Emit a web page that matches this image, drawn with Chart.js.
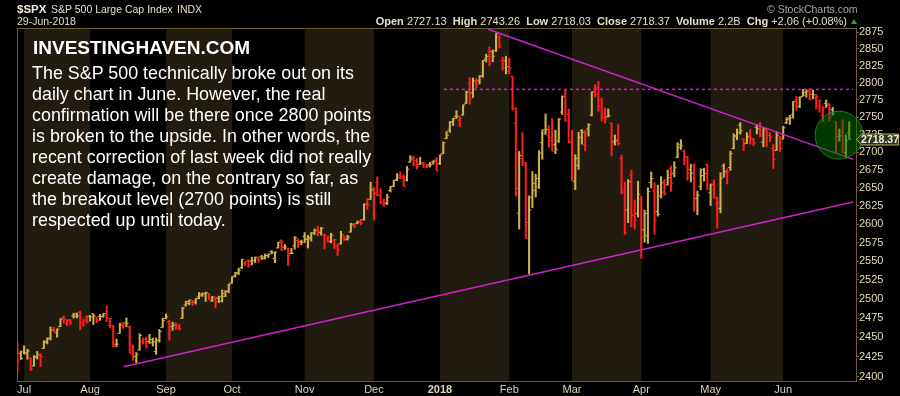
<!DOCTYPE html>
<html>
<head>
<meta charset="utf-8">
<script src="https://cdn.jsdelivr.net/npm/chart.js@4.4.0/dist/chart.umd.min.js"></script>
<style>
html,body{margin:0;padding:0;background:#000;}
#wrap{position:relative;width:900px;height:396px;overflow:hidden;background:#000;}
#mycanvas{position:absolute;left:0;top:0;}
.hd{position:absolute;font-family:"Liberation Sans",Arial,sans-serif;font-size:10.5px;line-height:12px;color:#e6dec6;white-space:pre;}
.note{position:absolute;color:#fff;font-family:"Liberation Sans",Arial,sans-serif;white-space:nowrap;}
</style>
</head>
<body>
<div id="wrap">
<canvas id="mycanvas" width="900" height="396"></canvas>
<div class="hd" style="left:17px;top:3px;font-weight:bold;font-size:11.5px;color:#f2ecd8">$SPX</div>
<div class="hd" style="left:51px;top:3px">S&amp;P 500 Large Cap Index</div>
<div class="hd" style="left:177px;top:3px">INDX</div>
<div class="hd" style="left:767px;top:3px;color:#a8a8a8">© StockCharts.com</div>
<div class="hd" style="left:17px;top:15px">29-Jun-2018</div>
<div class="hd" style="right:53px;top:15px;font-size:11px"><b>Open</b> 2727.13  <b>High</b> 2743.26  <b>Low</b> 2718.03  <b>Close</b> 2718.37  <b>Volume</b> 2.2B  <b>Chg</b> +2.06 (+0.08%)</div>
<div style="position:absolute;left:851px;top:19px;width:0;height:0;border-left:3.5px solid transparent;border-right:3.5px solid transparent;border-bottom:5px solid #1fae1f"></div>
<div class="note" style="left:33px;top:38px;font-weight:bold;font-size:19px;line-height:19px">INVESTINGHAVEN.COM</div>
<div class="note" style="left:32px;top:62.6px;font-size:17.9px;line-height:21px">The S&amp;P 500 technically broke out on its<br>daily chart in June. However, the real<br>confirmation will be there once 2800 points<br>is broken to the upside. In other words, the<br>recent correction of last week did not really<br>create damage, on the contrary so far, as<br>the breakout level (2700 points) is still<br>respected up until today.</div>
</div>
<script>
var dates = [
'2017-06-29','2017-06-30',
'2017-07-03','2017-07-05','2017-07-06','2017-07-07','2017-07-10','2017-07-11','2017-07-12','2017-07-13','2017-07-14','2017-07-17','2017-07-18','2017-07-19','2017-07-20','2017-07-21','2017-07-24','2017-07-25','2017-07-26','2017-07-27','2017-07-28','2017-07-31',
'2017-08-01','2017-08-02','2017-08-03','2017-08-04','2017-08-07','2017-08-08','2017-08-09','2017-08-10','2017-08-11','2017-08-14','2017-08-15','2017-08-16','2017-08-17','2017-08-18','2017-08-21','2017-08-22','2017-08-23','2017-08-24','2017-08-25','2017-08-28','2017-08-29','2017-08-30','2017-08-31',
'2017-09-01','2017-09-05','2017-09-06','2017-09-07','2017-09-08','2017-09-11','2017-09-12','2017-09-13','2017-09-14','2017-09-15','2017-09-18','2017-09-19','2017-09-20','2017-09-21','2017-09-22','2017-09-25','2017-09-26','2017-09-27','2017-09-28','2017-09-29',
'2017-10-02','2017-10-03','2017-10-04','2017-10-05','2017-10-06','2017-10-09','2017-10-10','2017-10-11','2017-10-12','2017-10-13','2017-10-16','2017-10-17','2017-10-18','2017-10-19','2017-10-20','2017-10-23','2017-10-24','2017-10-25','2017-10-26','2017-10-27','2017-10-30','2017-10-31',
'2017-11-01','2017-11-02','2017-11-03','2017-11-06','2017-11-07','2017-11-08','2017-11-09','2017-11-10','2017-11-13','2017-11-14','2017-11-15','2017-11-16','2017-11-17','2017-11-20','2017-11-21','2017-11-22','2017-11-24','2017-11-27','2017-11-28','2017-11-29','2017-11-30',
'2017-12-01','2017-12-04','2017-12-05','2017-12-06','2017-12-07','2017-12-08','2017-12-11','2017-12-12','2017-12-13','2017-12-14','2017-12-15','2017-12-18','2017-12-19','2017-12-20','2017-12-21','2017-12-22','2017-12-26','2017-12-27','2017-12-28','2017-12-29',
'2018-01-02','2018-01-03','2018-01-04','2018-01-05','2018-01-08','2018-01-09','2018-01-10','2018-01-11','2018-01-12','2018-01-16','2018-01-17','2018-01-18','2018-01-19','2018-01-22','2018-01-23','2018-01-24','2018-01-25','2018-01-26','2018-01-29','2018-01-30','2018-01-31',
'2018-02-01','2018-02-02','2018-02-05','2018-02-06','2018-02-07','2018-02-08','2018-02-09','2018-02-12','2018-02-13','2018-02-14','2018-02-15','2018-02-16','2018-02-20','2018-02-21','2018-02-22','2018-02-23','2018-02-26','2018-02-27','2018-02-28',
'2018-03-01','2018-03-02','2018-03-05','2018-03-06','2018-03-07','2018-03-08','2018-03-09','2018-03-12','2018-03-13','2018-03-14','2018-03-15','2018-03-16','2018-03-19','2018-03-20','2018-03-21','2018-03-22','2018-03-23','2018-03-26','2018-03-27','2018-03-28','2018-03-29',
'2018-04-02','2018-04-03','2018-04-04','2018-04-05','2018-04-06','2018-04-09','2018-04-10','2018-04-11','2018-04-12','2018-04-13','2018-04-16','2018-04-17','2018-04-18','2018-04-19','2018-04-20','2018-04-23','2018-04-24','2018-04-25','2018-04-26','2018-04-27','2018-04-30',
'2018-05-01','2018-05-02','2018-05-03','2018-05-04','2018-05-07','2018-05-08','2018-05-09','2018-05-10','2018-05-11','2018-05-14','2018-05-15','2018-05-16','2018-05-17','2018-05-18','2018-05-21','2018-05-22','2018-05-23','2018-05-24','2018-05-25','2018-05-29','2018-05-30','2018-05-31',
'2018-06-01','2018-06-04','2018-06-05','2018-06-06','2018-06-07','2018-06-08','2018-06-11','2018-06-12','2018-06-13','2018-06-14','2018-06-15','2018-06-18','2018-06-19','2018-06-20','2018-06-21','2018-06-22','2018-06-25','2018-06-26','2018-06-27','2018-06-28','2018-06-29'
];

var opens = [
2442.38,2429.20,
2431.39,2430.78,2423.06,2413.52,2424.51,2427.35,2435.75,2444.99,2449.16,2459.50,2455.88,2463.85,2475.56,2467.40,2472.04,2477.88,2479.97,2482.76,2469.12,2475.94,
2477.10,2480.38,2476.03,2476.88,2477.14,2478.35,2465.35,2465.38,2441.04,2454.96,2468.66,2468.63,2462.95,2427.64,2425.50,2433.75,2444.88,2447.91,2444.72,2447.35,2431.94,2446.06,2462.65,
2474.42,2470.35,2463.83,2468.06,2462.25,2474.52,2491.94,2493.89,2494.56,2495.67,2502.51,2506.29,2506.84,2507.16,2497.26,2499.39,2501.04,2503.30,2503.41,2510.08,
2521.20,2530.34,2533.48,2540.86,2547.44,2551.39,2549.99,2550.62,2552.88,2555.66,2555.57,2557.17,2562.87,2553.39,2567.56,2578.08,2568.66,2566.52,2560.08,2570.26,2577.75,2575.99,
2583.21,2579.46,2581.93,2587.47,2592.11,2588.71,2584.00,2580.18,2576.53,2577.75,2569.45,2572.95,2582.94,2579.49,2589.17,2600.31,2600.42,2602.66,2605.94,2627.82,2633.93,
2645.10,2657.19,2639.78,2626.24,2628.38,2646.21,2652.19,2661.73,2667.59,2665.87,2660.63,2685.92,2692.71,2688.18,2683.02,2684.22,2679.09,2682.10,2686.10,2689.15,
2683.73,2697.85,2719.31,2731.33,2742.67,2751.15,2745.55,2752.97,2770.18,2798.96,2784.99,2802.40,2802.60,2809.16,2835.05,2845.42,2846.24,2847.48,2867.23,2832.74,2832.41,
2816.45,2808.92,2741.06,2614.78,2690.95,2685.01,2601.78,2636.75,2646.27,2651.21,2713.46,2727.14,2722.99,2720.53,2710.42,2715.80,2757.37,2780.45,2753.78,
2715.22,2658.89,2681.06,2730.18,2710.18,2732.75,2752.91,2790.54,2792.31,2774.06,2754.27,2750.57,2741.38,2715.05,2714.99,2691.36,2646.71,2619.35,2667.57,2611.30,2614.41,
2633.45,2592.17,2584.04,2657.36,2645.82,2617.18,2638.41,2643.89,2653.83,2676.90,2670.10,2692.74,2710.11,2701.16,2692.56,2675.40,2680.80,2634.92,2651.65,2675.47,2682.51,
2642.96,2654.24,2628.08,2621.45,2680.34,2670.26,2678.12,2705.02,2722.70,2738.47,2718.59,2712.62,2719.71,2717.35,2735.39,2738.34,2713.98,2730.94,2723.60,2705.11,2702.43,2720.98,
2718.70,2741.67,2748.46,2753.25,2774.84,2765.84,2780.18,2785.60,2787.94,2783.21,2777.78,2765.79,2752.01,2769.73,2769.28,2760.79,2742.94,2722.12,2728.45,2698.69,2727.13
];

var highs = [
2442.73,2432.71,
2439.17,2434.90,2424.28,2426.92,2432.00,2429.30,2445.76,2449.32,2463.54,2462.82,2460.92,2473.83,2477.62,2472.54,2473.10,2481.24,2481.69,2484.04,2473.53,2477.96,
2478.51,2480.38,2476.03,2480.00,2480.95,2490.87,2474.41,2465.38,2448.09,2468.22,2468.90,2474.93,2465.02,2440.27,2430.58,2454.77,2448.91,2450.39,2453.96,2449.12,2449.19,2460.31,2475.01,
2480.38,2471.97,2469.64,2468.62,2467.11,2488.95,2496.77,2498.37,2498.43,2500.23,2508.32,2507.84,2508.85,2507.16,2503.47,2502.54,2503.51,2511.75,2510.81,2519.44,
2529.23,2535.13,2540.53,2552.51,2549.41,2551.82,2555.23,2555.24,2555.33,2557.65,2559.47,2559.71,2564.11,2562.36,2575.44,2578.29,2572.18,2567.40,2567.07,2582.98,2580.03,2578.29,
2588.40,2584.62,2588.42,2593.38,2597.02,2595.47,2586.50,2583.81,2587.66,2579.66,2572.84,2590.09,2583.96,2584.64,2601.19,2600.94,2604.21,2606.41,2627.69,2634.89,2657.74,
2650.62,2665.19,2648.72,2634.41,2640.99,2651.65,2660.33,2669.72,2671.88,2668.09,2679.63,2694.97,2694.44,2691.01,2692.64,2685.35,2682.74,2685.64,2687.66,2692.12,
2695.89,2714.37,2729.29,2743.45,2748.51,2759.14,2750.80,2767.56,2787.85,2807.54,2807.04,2805.83,2810.33,2833.03,2842.24,2852.97,2848.56,2872.87,2870.62,2837.75,2839.26,
2835.96,2808.92,2763.39,2701.04,2727.67,2685.27,2638.67,2672.61,2668.84,2702.10,2731.51,2754.42,2737.60,2747.75,2731.26,2747.76,2780.64,2789.15,2761.52,
2730.89,2696.25,2728.09,2732.08,2730.60,2740.45,2786.57,2796.98,2801.90,2777.11,2763.03,2761.85,2741.38,2724.22,2739.14,2695.68,2657.67,2661.36,2674.78,2632.65,2659.07,
2638.30,2619.14,2649.86,2672.08,2656.88,2653.55,2665.45,2661.43,2674.72,2680.26,2686.49,2713.34,2717.49,2702.84,2693.94,2682.86,2683.55,2645.30,2676.48,2677.35,2682.87,
2655.27,2660.87,2637.14,2670.93,2683.35,2676.34,2701.27,2726.11,2732.86,2742.10,2718.59,2727.76,2731.96,2719.50,2739.19,2742.24,2733.33,2731.97,2727.36,2710.67,2729.34,2722.50,
2736.93,2749.16,2752.61,2772.39,2779.90,2779.39,2790.21,2789.80,2791.47,2789.06,2782.81,2774.99,2765.05,2774.86,2769.28,2764.17,2742.94,2732.91,2746.09,2724.34,2743.26
];

var lows = [
2405.70,2421.65,
2428.69,2422.05,2407.70,2413.52,2422.27,2412.79,2435.75,2441.69,2446.69,2457.16,2450.34,2463.85,2468.43,2465.06,2466.32,2474.91,2474.94,2459.93,2464.66,2468.53,
2471.14,2466.48,2468.85,2472.08,2475.88,2470.32,2462.08,2437.75,2437.85,2454.96,2461.61,2463.86,2430.01,2420.69,2417.35,2433.67,2441.42,2436.19,2442.22,2439.03,2428.20,2443.77,2462.65,
2473.85,2446.55,2459.20,2460.29,2459.40,2474.52,2490.37,2492.14,2491.35,2493.16,2499.92,2503.19,2496.67,2499.00,2496.54,2488.03,2495.12,2495.91,2502.93,2507.99,
2520.40,2528.85,2531.80,2540.02,2543.79,2541.60,2544.86,2547.95,2548.31,2552.09,2552.64,2554.69,2559.67,2547.92,2567.56,2564.33,2565.58,2544.00,2559.80,2565.94,2568.25,2572.15,
2574.92,2567.46,2576.77,2585.66,2584.35,2585.02,2566.33,2575.57,2574.48,2566.56,2557.45,2572.95,2577.62,2578.24,2589.17,2595.23,2600.42,2598.87,2605.44,2620.32,2633.93,
2605.52,2639.03,2627.73,2624.75,2626.53,2644.10,2651.47,2659.78,2662.85,2652.01,2659.14,2685.92,2680.74,2676.11,2682.40,2678.13,2677.96,2678.91,2682.69,2673.61,
2682.36,2697.77,2719.07,2727.92,2737.60,2747.86,2736.06,2752.78,2769.64,2768.64,2778.38,2792.56,2798.08,2808.12,2830.59,2824.81,2830.94,2846.18,2851.48,2818.27,2813.04,
2812.70,2759.97,2638.17,2593.07,2681.33,2580.56,2532.69,2622.45,2637.08,2648.87,2689.82,2725.11,2706.76,2701.29,2697.77,2713.74,2753.78,2744.22,2713.54,
2659.65,2647.32,2675.75,2711.26,2701.74,2722.65,2751.54,2779.26,2758.68,2744.38,2741.47,2749.97,2694.59,2710.05,2709.79,2641.59,2585.89,2601.81,2596.12,2593.06,2609.72,
2553.80,2575.49,2573.61,2649.58,2586.27,2610.79,2635.78,2639.25,2653.83,2645.05,2665.16,2692.05,2703.63,2681.90,2660.61,2657.99,2617.32,2612.67,2647.16,2659.01,2648.04,
2625.41,2635.37,2594.62,2615.32,2664.70,2655.20,2674.14,2704.54,2717.45,2725.47,2701.91,2712.17,2711.36,2709.18,2725.70,2721.88,2707.38,2707.38,2714.99,2676.81,2702.43,2700.68,
2718.70,2740.54,2739.51,2748.46,2760.16,2763.59,2780.17,2778.78,2774.65,2776.52,2761.73,2757.12,2743.19,2763.91,2744.39,2752.68,2698.67,2715.60,2699.38,2691.99,2718.03
];

var closes = [
2419.70,2423.41,
2429.01,2432.54,2409.75,2425.18,2427.43,2425.53,2443.25,2447.83,2459.27,2459.14,2460.61,2473.83,2473.45,2472.54,2469.91,2477.13,2477.83,2475.42,2472.10,2470.30,
2476.35,2477.57,2472.16,2476.83,2480.91,2474.92,2474.02,2438.21,2441.32,2465.84,2464.61,2468.11,2430.01,2425.55,2428.37,2452.51,2444.04,2438.97,2443.05,2444.24,2446.30,2457.59,2471.65,
2476.55,2457.85,2465.54,2465.10,2461.43,2488.11,2496.48,2498.37,2495.62,2500.23,2503.87,2506.65,2508.24,2500.60,2502.22,2496.66,2496.84,2507.04,2510.06,2519.36,
2529.12,2534.58,2537.74,2552.07,2549.33,2544.73,2550.64,2555.24,2550.93,2553.17,2557.64,2559.36,2561.26,2562.10,2575.21,2564.98,2569.13,2557.15,2560.40,2581.07,2572.83,2575.26,
2579.36,2579.85,2587.84,2591.13,2590.64,2594.38,2584.62,2582.30,2584.84,2578.87,2564.62,2585.64,2578.85,2582.14,2599.03,2597.08,2602.42,2601.42,2627.04,2626.07,2647.58,
2642.22,2639.44,2629.57,2629.27,2636.98,2651.50,2659.99,2664.11,2662.85,2652.01,2675.81,2690.16,2681.47,2679.25,2684.57,2683.34,2680.50,2682.62,2687.54,2673.61,
2695.81,2713.06,2723.99,2743.15,2747.71,2751.29,2748.23,2767.56,2786.24,2776.42,2802.56,2798.03,2810.30,2832.97,2839.13,2837.54,2839.25,2872.87,2853.53,2822.43,2823.81,
2821.98,2762.13,2648.94,2695.14,2681.66,2581.00,2619.55,2656.00,2662.94,2698.63,2731.20,2732.22,2716.26,2701.33,2703.96,2747.30,2779.60,2744.28,2713.83,
2677.67,2691.25,2720.94,2728.12,2726.80,2738.97,2786.57,2783.02,2765.31,2749.48,2747.33,2752.01,2712.92,2716.94,2711.93,2643.69,2588.26,2658.55,2612.62,2605.00,2640.87,
2581.88,2614.45,2644.69,2662.84,2604.47,2613.16,2656.87,2642.19,2663.99,2656.30,2677.84,2706.39,2708.64,2693.13,2670.14,2670.29,2634.56,2639.40,2666.94,2669.91,2648.05,
2654.80,2635.67,2629.73,2663.42,2672.63,2671.92,2697.79,2723.07,2727.72,2730.13,2711.45,2722.46,2720.13,2712.97,2733.01,2724.44,2733.29,2727.76,2721.33,2689.86,2724.01,2705.27,
2734.62,2746.87,2748.80,2772.35,2770.37,2779.03,2782.00,2786.85,2775.63,2782.49,2779.66,2773.75,2762.59,2767.32,2749.76,2754.88,2717.07,2723.06,2699.63,2716.31,2718.37
];

var prevClose = 2440.69; // close of 2017-06-28
var yTicks = [2400,2425,2450,2475,2500,2525,2550,2575,2600,2625,2650,2675,2700,2725,2750,2775,2800,2825,2850,2875];
var monthNames = ['Jan','Feb','Mar','Apr','May','Jun','Jul','Aug','Sep','Oct','Nov','Dec'];

// trend lines drawn on the chart (x = bar index, y = price)
var resistance = [{x:142.6, y:2879.5}, {x:253.2, y:2689.7}];
var support = [{x:32.1, y:2412.6}, {x:253.2, y:2630.2}];
var breakout = [{x:129.2, y:2790.3}, {x:253.2, y:2790.3}];
var focus = [{x:248.9, y:2724}];

var UP = '#cfb24a', DOWN = '#ff1e1e', AXIS = '#6e5c2e', FONT = '"Liberation Sans", Arial, sans-serif';

var barColors = closes.map(function(c, i){
	var p = i ? closes[i-1] : prevClose;
	return c < p ? DOWN : UP;
});

var monthStarts = [];
for (var i = 1; i < dates.length; i++) {
	if (dates[i].slice(5,7) !== dates[i-1].slice(5,7)) monthStarts.push(i);
}
function monthLabel(idx) {
	var m = +dates[idx].slice(5,7);
	return m === 1 ? dates[idx].slice(0,4) : monthNames[m-1];
}

var bandsPlugin = {
	id: 'bands',
	beforeDraw: function(chart){
		var ctx = chart.ctx, a = chart.chartArea, xs = chart.scales.x;
		ctx.save();
		ctx.fillStyle = '#000';
		ctx.fillRect(0, 0, chart.width, chart.height);
		ctx.fillStyle = '#221b0f';
		for (var k = 0; k < monthStarts.length; k++) {
			var m = +dates[monthStarts[k]].slice(5,7);
			if (m % 2 === 1) {
				var x0 = xs.getPixelForValue(monthStarts[k]);
				var x1 = k + 1 < monthStarts.length ? xs.getPixelForValue(monthStarts[k+1]) : a.right;
				ctx.fillRect(x0, a.top, x1 - x0, a.bottom - a.top);
			}
		}
		ctx.strokeStyle = AXIS;
		ctx.lineWidth = 1;
		ctx.beginPath();
		ctx.moveTo(Math.floor(a.left) + 0.5, a.bottom);
		ctx.lineTo(Math.floor(a.left) + 0.5, Math.floor(a.top) + 0.5);
		ctx.lineTo(a.right, Math.floor(a.top) + 0.5);
		ctx.stroke();
		ctx.restore();
	}
};

var tagPlugin = {
	id: 'lastTag',
	afterDraw: function(chart){
		var ctx = chart.ctx, a = chart.chartArea, ys = chart.scales.y;
		var last = closes[closes.length-1];
		var y = Math.round(ys.getPixelForValue(last)) + 0.5;
		var x0 = a.right + 0.5, x1 = chart.width - 1.5, h = 5.5;
		ctx.save();
		ctx.beginPath();
		ctx.moveTo(x0, y);
		ctx.lineTo(x0 + 5, y - h);
		ctx.lineTo(x1, y - h);
		ctx.lineTo(x1, y + h);
		ctx.lineTo(x0 + 5, y + h);
		ctx.closePath();
		ctx.fillStyle = '#2c3622';
		ctx.fill();
		ctx.strokeStyle = '#bfa650';
		ctx.lineWidth = 1;
		ctx.stroke();
		ctx.fillStyle = '#f2f0e2';
		ctx.font = 'bold 10.5px ' + FONT;
		ctx.textAlign = 'center';
		ctx.textBaseline = 'middle';
		ctx.fillText(last.toFixed(2), (x0 + 5 + x1) / 2, y + 0.5);
		ctx.restore();
	}
};

var ctx = document.getElementById('mycanvas');

var chart = new Chart(ctx, {
	type: 'bar',
	data: {
		datasets: [
			{
				type: 'bubble',
				label: 'Focus',
				data: focus,
				radius: 24,
				backgroundColor: 'rgba(0,112,0,0.5)',
				borderColor: 'rgba(40,150,40,0.75)',
				borderWidth: 1,
				clip: false,
				order: 0
			},
			{
				type: 'line',
				label: 'Resistance',
				data: resistance,
				borderColor: '#cc22cc',
				borderWidth: 1.5,
				pointRadius: 0,
				order: 1
			},
			{
				type: 'line',
				label: 'Support',
				data: support,
				borderColor: '#cc22cc',
				borderWidth: 1.5,
				pointRadius: 0,
				order: 1
			},
			{
				type: 'line',
				label: 'Breakout 2790',
				data: breakout,
				borderColor: '#cc22cc',
				borderWidth: 1.5,
				borderDash: [3, 3],
				pointRadius: 0,
				order: 1
			},
			{
				type: 'scatter',
				label: 'Open',
				data: opens.map(function(v, i){ return {x: i, y: v}; }),
				pointStyle: 'dash',
				pointRotation: 180,
				pointRadius: 2.3,
				pointBorderWidth: 1,
				pointBorderColor: barColors,
				pointBackgroundColor: barColors,
				order: 2
			},
			{
				type: 'scatter',
				label: 'Close',
				data: closes.map(function(v, i){ return {x: i, y: v}; }),
				pointStyle: 'dash',
				pointRotation: 0,
				pointRadius: 2.3,
				pointBorderWidth: 1,
				pointBorderColor: barColors,
				pointBackgroundColor: barColors,
				order: 2
			},
			{
				type: 'bar',
				label: 'High-Low',
				data: highs.map(function(h, i){ return {x: i, y: [lows[i], h]}; }),
				backgroundColor: barColors,
				borderWidth: 0,
				barThickness: 1.4,
				grouped: false,
				order: 3
			}
		]
	},
	options: {
		responsive: false,
		animation: false,
		events: [],
		layout: { autoPadding: false, padding: { left: 17, top: 28, right: 0, bottom: 0 } },
		plugins: {
			legend: { display: false },
			tooltip: { enabled: false }
		},
		scales: {
			x: {
				type: 'linear',
				min: -0.15,
				max: 254.05,
				offset: false,
				afterBuildTicks: function(s){ s.ticks = monthStarts.map(function(v){ return {value: v}; }); },
				afterFit: function(s){ s.height = 15; s.paddingLeft = 0; s.paddingRight = 0; },
				grid: { display: false, drawTicks: false },
				border: { display: true, color: AXIS, dash: [1, 2] },
				ticks: {
					autoSkip: false,
					maxRotation: 0,
					padding: 2,
					color: '#ddd4bb',
					font: function(c){
						var bold = c.tick && monthLabel(c.tick.value) === '2018';
						return { family: FONT, size: 11, weight: bold ? 'bold' : 'normal' };
					},
					callback: function(v){ return monthLabel(v); }
				}
			},
			y: {
				type: 'logarithmic',
				position: 'right',
				min: 2394.6,
				max: 2881.5,
				beginAtZero: false,
				afterBuildTicks: function(s){ s.ticks = yTicks.map(function(v){ return {value: v}; }); },
				afterFit: function(s){ s.width = 44; s.paddingTop = 0; s.paddingBottom = 0; },
				grid: { display: true, drawOnChartArea: false, drawTicks: true, tickLength: 3, color: AXIS },
				border: { display: true, color: AXIS },
				ticks: {
					padding: 0,
					color: '#e6dcbc',
					font: { family: FONT, size: 11 },
					callback: function(v){ return String(v); }
				}
			}
		}
	},
	plugins: [bandsPlugin, tagPlugin]
});
</script>
</body>
</html>
